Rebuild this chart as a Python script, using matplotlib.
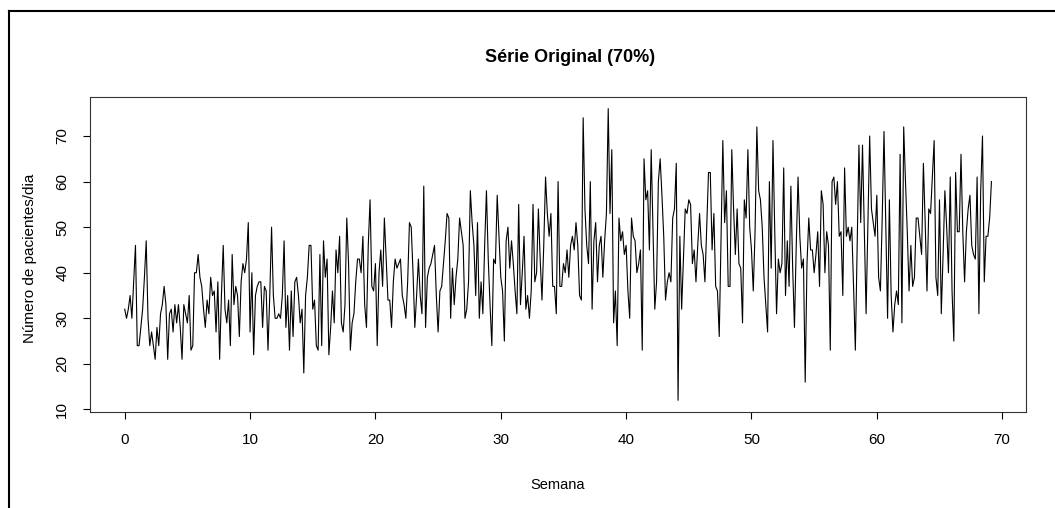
import numpy as np
import matplotlib
matplotlib.use("Agg")
import matplotlib.pyplot as plt
from matplotlib.lines import Line2D

plt.rcParams['font.family'] = ['Liberation Sans', 'DejaVu Sans']

title = "Série Original (70%)"
xlabel = "Semana"
ylabel = "Número de pacientes/dia"
freq = 7
x_ticks = [0, 10, 20, 30, 40, 50, 60, 70]
y_ticks = [10, 20, 30, 40, 50, 60, 70]

seg1 = [32,30,32,35,30,38,46,24,24,28,32,39,47,30,24,27,24,21,28,24,31,33,37,33,21,31,32,27,33,29,
        33,28,21,33,31,29,35,23,24,40,40,44,39,37,32,28,34,31,39,35]
seg2 = [36,27,38,21,35,46,32,29,34,24,44,33,37,35,26,38,42,40,43,51,27,40,22,35,37,38,38,28,37,36,23,
        35,50,35,30,30,31,30,35,47,28,35,23,36,26,38,39,35,29,32]
seg3 = [18,35,39,46,46,32,34,24,23,44,24,47,39,43,22,28,36,29,45,40,48,29,27,33,52,42,23,29,31,38,
        43,43,40,48,33,28,46,56,37,36,42,24,40,45,37,52,43,34,34,28,38]
seg4 = [43,41,42,43,35,33,30,38,51,50,40,28,35,43,35,31,59,28,39,41,42,44,46,35,27,36,37,42,47,53,
        52,30,41,33,39,43,52,49,46,30,32,38,58,51,46,35,51,30,38,31]
seg5 = [46,58,43,33,24,43,42,57,48,39,36,25,47,50,41,47,42,36,31,55,33,40,48,32,35,30,36,55,38,40,54,
        43,34,46,61,53,48,53,37,37,31,60,37,37,42,40,45,39,46,48,45]
seg6 = [51,46,35,34,74,54,46,42,60,32,47,51,38,46,48,39,47,53,76,53,67,29,36,24,52,47,49,44,46,36,
        30,52,48,47,40,42,45,23,65,56,58,45,67,49,32,38,60,65,57]
seg7 = [48,34,38,40,38,52,54,64,12,48,32,43,54,53,56,55,42,45,38,46,53,46,44,38,50,62,62,45,53,37,
        36,26,47,69,51,58,37,37,67,54,44,54,42,41,29,56,52,67,50]
seg8 = [45,36,49,72,58,56,50,39,33,27,60,41,69,49,31,43,40,42,63,35,47,37,59,41,28,46,61,48,41,43,16,
        42,52,45,45,40,44,49,37,58,55,40,49,46,23,60,61,55,60,48,49,35]
seg9 = [63,48,50,47,50,37,23,45,68,51,68,50,31,50,70,54,51,48,57,39,36,52,71,50,30,56,35,27,33,
        36,33,66,29,72,60,49,36,46,37,39,52,52,48,44,64,51,36,54,53,61]
seg10 = [69,39,35,56,31,44,58,50,40,61,36,25,62,49,49,66,49,38,49,54,57,46,44,43,61,31,58,70,38,48,
         48,52,60]

values = np.array(seg1 + seg2 + seg3 + seg4 + seg5 + seg6 + seg7 + seg8 + seg9 + seg10, dtype=float)
time = np.arange(len(values)) / freq

W, H = 1055, 508
fig = plt.figure(figsize=(W / 100, H / 100), dpi=100)
fig.patch.set_facecolor('white')

left, right, top, bottom = 90, 1026, 97, 412
ax = fig.add_axes([left / W, 1 - bottom / H, (right - left) / W, (bottom - top) / H])
ax.plot(time, values, color='black', lw=0.8)

ax.set_xlim(-2.77, 71.9)
ax.set_ylim(9.44, 78.56)
ax.set_xticks(x_ticks)
ax.set_yticks(y_ticks)
ax.set_xticklabels([str(t) for t in x_ticks], fontsize=11)
ax.set_yticklabels([str(t) for t in y_ticks], fontsize=11, rotation=90, va='center')
ax.tick_params(axis='both', direction='out', length=5, width=0.8, color='black')
ax.tick_params(axis='x', pad=10)
ax.tick_params(axis='y', pad=10)
for s in ax.spines.values():
    s.set_linewidth(0.8)
    s.set_color('#333333')

fig.text(570 / W, 1 - 57 / H, title, ha='center', va='center', fontsize=13, fontweight='bold')
fig.text(558 / W, 1 - 485 / H, xlabel, ha='center', va='center', fontsize=10.5)
fig.text(30 / W, 1 - 258 / H, ylabel, ha='center', va='center', fontsize=11, rotation=90)

# outer frame (top and left edges)
fig.add_artist(Line2D([9 / W, 1.0], [1 - 11 / H, 1 - 11 / H], transform=fig.transFigure, color='black', lw=1.5))
fig.add_artist(Line2D([9 / W, 9 / W], [0, 1 - 11 / H], transform=fig.transFigure, color='black', lw=1.5))

fig.savefig('out.png', dpi=100)
